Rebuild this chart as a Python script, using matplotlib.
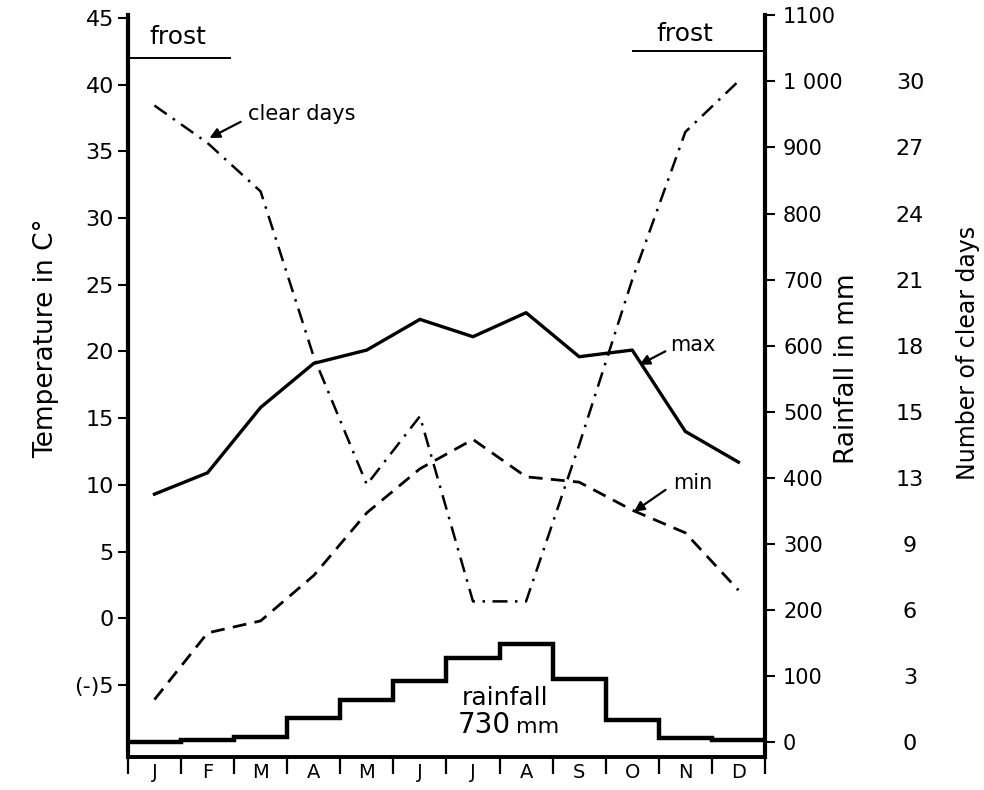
import numpy as np
import matplotlib.pyplot as plt

months = ["J", "F", "M", "A", "M", "J", "J", "A", "S", "O", "N", "D"]
temp_max = [9.3, 10.9, 15.8, 19.1, 20.1, 22.4, 21.1, 22.9, 19.6, 20.1, 14.0, 11.7]
temp_min = [-6.1, -1.1, -0.2, 3.2, 7.9, 11.2, 13.4, 10.6, 10.2, 8.1, 6.4, 2.1]
clear_days = [28.9, 27.2, 25.0, 17.5, 11.7, 14.8, 6.4, 6.4, 13.5, 21.0, 27.7, 30.0]
rainfall = [1, 4, 8, 37, 64, 93, 128, 149, 96, 34, 6, 3]

temp_ticks = [-5, 0, 5, 10, 15, 20, 25, 30, 35, 40, 45]
temp_labels = ["(-)5", "0", "5", "10", "15", "20", "25", "30", "35", "40", "45"]
rain_ticks = [0, 100, 200, 300, 400, 500, 600, 700, 800, 900, 1000, 1100]
rain_labels = ["0", "100", "200", "300", "400", "500", "600", "700", "800", "900", "1 000", "1100"]
day_ticks = [0, 3, 6, 9, 12, 15, 18, 21, 24, 27, 30]
day_labels = ["0", "3", "6", "9", "13", "15", "18", "21", "24", "27", "30"]

# frost periods (start month, end month, drawn level in deg C)
frost_left = (0, 1.92, 42.0)
frost_right = (9.51, 12, 42.5)

plt.rcParams["font.family"] = ["DejaVu Sans"]

fig = plt.figure(figsize=(9.84, 7.90), dpi=100)
ax = fig.add_axes([0.130, 0.0418, 0.6474, 0.939])
ax_rain = ax.twinx()
ax_days = ax.twinx()

x = np.arange(12) + 0.5
edges = np.arange(13)

ax.plot(x, temp_max, color="black", lw=2.4)
ax.plot(x, temp_min, color="black", lw=2.0, dashes=(5, 3))
ax_days.plot(x, clear_days, color="black", lw=1.8, dashes=(6, 3, 1, 3))
ax_rain.stairs(rainfall, edges, baseline=None, color="black", lw=3.2)

ax.set_xlim(0, 12)
ax.set_ylim(-10.4, 45.2)
ax_rain.set_ylim(-22, 1100)
lo, hi = ax_rain.get_ylim()
ax_days.set_ylim(lo * 0.03, hi * 0.03)

# frost bars
for start, end, level in (frost_left, frost_right):
    ax.plot([start, end], [level, level], color="black", lw=1.4)
ax.text(0.94, 43.6, "frost", fontsize=18, ha="center", va="center")
ax.text(10.49, 43.8, "frost", fontsize=18, ha="center", va="center")

# spines
ax.spines["top"].set_visible(False)
ax_rain.spines["top"].set_visible(False)
for s in ax_days.spines.values():
    s.set_visible(False)
ax.spines["left"].set_linewidth(3)
ax.spines["bottom"].set_linewidth(2.8)
ax_rain.spines["right"].set_linewidth(3)
ax_rain.spines["left"].set_visible(False)
ax_rain.spines["bottom"].set_visible(False)

# x axis
ax.set_xticks(edges, minor=True)
ax.set_xticks(x)
ax.set_xticklabels(months, fontsize=14)
ax.tick_params(axis="x", which="major", length=0, pad=4)
ax.tick_params(axis="x", which="minor", length=12, width=1.6, direction="out")

# temperature axis
ax.set_yticks(temp_ticks)
ax.set_yticklabels(temp_labels, fontsize=16)
ax.tick_params(axis="y", length=7, width=1.5, pad=3)
ax.set_ylabel("Temperature in C°", fontsize=19)
ax.yaxis.set_label_coords(-0.108, 0.565)

# rainfall axis
ax_rain.set_yticks(rain_ticks)
ax_rain.set_yticklabels(rain_labels, fontsize=15)
ax_rain.tick_params(axis="y", length=7, width=1.5, pad=6)
ax_rain.set_ylabel("Rainfall in mm", fontsize=19)
ax_rain.yaxis.set_label_coords(1.108, 0.524)

# clear days axis (labels only)
ax_days.spines["right"].set_position(("axes", 1.2276))
ax_days.set_yticks(day_ticks)
ax_days.set_yticklabels(day_labels, fontsize=16, ha="center")
ax_days.tick_params(axis="y", length=0, pad=0)
fig.text(968 / 984, 1 - 353 / 790, "Number of clear days", rotation=90,
         fontsize=17, ha="center", va="center")

# annotations
arrow = dict(arrowstyle="-|>", lw=1.6, color="black", mutation_scale=15)
ax.annotate("", xy=(1.49, 35.9), xytext=(2.17, 37.3), arrowprops=arrow)
ax.text(2.26, 37.8, "clear days", fontsize=15, ha="left", va="center")
ax.annotate("", xy=(9.59, 18.9), xytext=(10.17, 20.1), arrowprops=arrow)
ax.text(10.21, 20.45, "max", fontsize=15, ha="left", va="center")
ax.annotate("", xy=(9.49, 7.87), xytext=(10.17, 9.74), arrowprops=arrow)
ax.text(10.27, 10.1, "min", fontsize=15, ha="left", va="center")

ax.text(7.10, -6.52, "rainfall", fontsize=18, ha="center", va="baseline")
ax.text(6.72, -8.61, "730", fontsize=20, ha="center", va="baseline")
ax.text(7.71, -8.61, "mm", fontsize=16, ha="center", va="baseline")

fig.savefig("out.png", dpi=100, facecolor="white")
